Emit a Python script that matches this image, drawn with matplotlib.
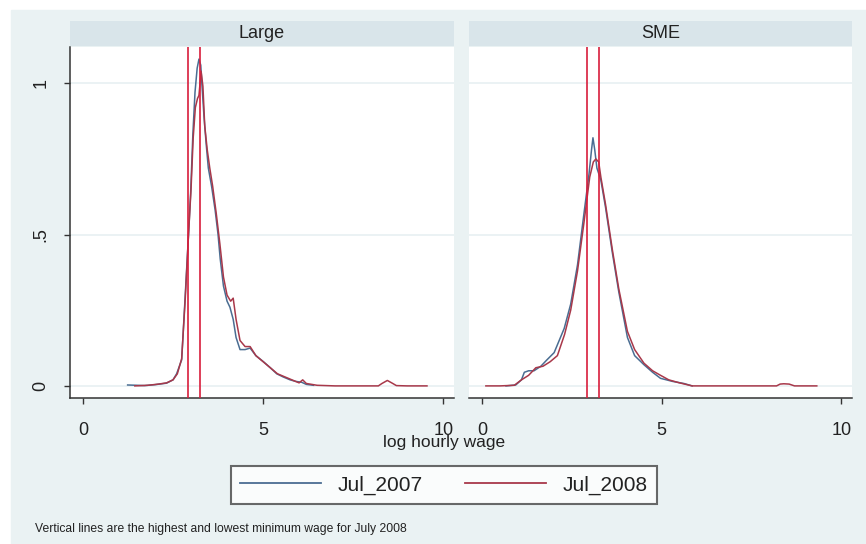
import numpy as np
import matplotlib; matplotlib.use('Agg')
import matplotlib.pyplot as plt
from matplotlib.patches import Rectangle

plt.rcParams['font.family'] = ['Liberation Sans', 'DejaVu Sans']

# --- data ----------------------------------------------------------------
panels = ['Large', 'SME']
series = ['Jul_2007', 'Jul_2008']
min_wage = [2.92, 3.25]   # log of lowest / highest minimum wage, Jul 2008

large_07_x = [1.24,1.5,1.71,2.0,2.32,2.5,2.60,2.74,2.83,2.93,2.99,3.05,3.11,3.17,3.22,3.27,3.30,3.36,3.42,3.48,
              3.57,3.67,3.75,3.81,3.90,4.0,4.08,4.17,4.25,4.36,4.5,4.64,4.8,5.01,5.2,5.38,5.55,5.75,5.9,6.07,6.2,6.4]
large_07_y = [0.003,0.002,0.001,0.004,0.009,0.02,0.04,0.086,0.28,0.50,0.64,0.83,0.97,1.05,1.08,1.06,1.0,0.89,0.80,0.72,
              0.66,0.58,0.50,0.42,0.33,0.28,0.26,0.22,0.16,0.12,0.12,0.125,0.10,0.08,0.06,0.04,0.03,0.02,0.015,0.012,0.005,0.002]
large_08_x = [1.44,1.8,2.1,2.32,2.5,2.62,2.74,2.84,2.93,3.0,3.06,3.12,3.18,3.22,3.28,3.33,3.38,3.45,3.52,3.6,3.7,3.8,
              3.9,4.0,4.1,4.17,4.25,4.36,4.5,4.64,4.8,5.0,5.2,5.4,5.6,5.8,6.0,6.1,6.2,6.5,7.0,8.2,8.3,8.45,8.6,8.7,9.0,9.55]
large_08_y = [0.0,0.002,0.006,0.01,0.02,0.04,0.09,0.29,0.50,0.65,0.82,0.92,0.95,0.96,1.04,0.99,0.86,0.78,0.72,0.66,0.57,0.47,
              0.36,0.30,0.28,0.29,0.22,0.15,0.13,0.13,0.10,0.08,0.06,0.04,0.03,0.02,0.01,0.02,0.008,0.002,0.0,0.0,0.008,0.018,0.008,0.001,0.0,0.0]
sme_07_x = [0.67,0.94,1.1,1.18,1.3,1.45,1.64,1.8,2.01,2.15,2.29,2.47,2.66,2.84,2.98,3.05,3.09,3.14,3.2,3.31,3.44,3.63,
            3.81,4.05,4.25,4.51,4.75,4.97,5.3,5.62,5.85]
sme_07_y = [0.0,0.003,0.02,0.045,0.05,0.05,0.065,0.085,0.11,0.15,0.19,0.27,0.40,0.57,0.70,0.78,0.82,0.78,0.72,0.68,0.59,0.44,
            0.31,0.16,0.10,0.07,0.045,0.025,0.015,0.008,0.0]
sme_08_x = [0.11,0.5,0.9,1.1,1.3,1.5,1.7,1.9,2.1,2.3,2.47,2.66,2.84,3.0,3.1,3.17,3.25,3.31,3.44,3.63,3.81,4.05,4.25,4.51,
            4.75,4.97,5.2,5.5,5.85,7.0,8.2,8.3,8.4,8.55,8.7,9.32]
sme_08_y = [0.0,0.0,0.002,0.02,0.035,0.06,0.065,0.08,0.1,0.17,0.25,0.38,0.54,0.69,0.74,0.75,0.74,0.69,0.60,0.45,0.32,0.18,
            0.12,0.075,0.05,0.035,0.02,0.01,0.0,0.0,0.0,0.006,0.007,0.006,0.0,0.0]
curves = {'Large': [(large_07_x, large_07_y), (large_08_x, large_08_y)],
          'SME':   [(sme_07_x, sme_07_y), (sme_08_x, sme_08_y)]}

BG = '#eaf2f3'; STRIP = '#d9e5ea'; BLUE = '#4a6d92'; MAROON = '#a8384a'; VRED = '#d81e3c'
W, H = 866, 544
fig = plt.figure(figsize=(W/100, H/100), dpi=100, facecolor='white')
fig.patches.append(Rectangle((11/W, 0), 1, 1-10/H, transform=fig.transFigure, color=BG, zorder=-10))

lefts = [70, 469]; right_edges = [454, 852]
for name, l, r in zip(panels, lefts, right_edges):
    ax = fig.add_axes([l/W, 1-398/H, (r-l)/W, (398-47)/H])
    ax.set_facecolor('white')
    for yv in [0, 0.5, 1]:
        ax.axhline(yv, color='#e8f0f2', lw=1.2, zorder=0)
    (bx, by), (rx, ry) = curves[name]
    ax.plot(bx, by, color=BLUE, lw=1.1, zorder=3, label=series[0])
    ax.plot(rx, ry, color=MAROON, lw=1.1, zorder=3, label=series[1])
    for v in min_wage:
        ax.axvline(v, color=VRED, lw=1.2, zorder=4)
    ax.set_xlim(-0.36, 10.3); ax.set_ylim(-0.04, 1.12)
    ax.set_xticks([0, 5, 10]); ax.set_yticks([0, 0.5, 1])
    ax.set_xticklabels(['0', '5', '10'], fontsize=13, color='#222')
    ax.set_yticklabels(['0', '.5', '1'], fontsize=13, color='#222', rotation=90, va='center')
    for s in ['top', 'right']: ax.spines[s].set_visible(False)
    for s in ['left', 'bottom']: ax.spines[s].set_color('#333'); ax.spines[s].set_linewidth(1.1)
    ax.tick_params(axis='x', length=4, width=1, color='#333', pad=13)
    ax.tick_params(axis='y', length=4, width=1, color='#333', pad=11)
    if name == 'SME':
        ax.spines['left'].set_visible(False); ax.tick_params(axis='y', left=False, labelleft=False)
    # strip
    sax = fig.add_axes([l/W, 1-46/H, (r-l)/W, 25/H]); sax.set_facecolor(STRIP)
    sax.set_xticks([]); sax.set_yticks([])
    for s in sax.spines.values(): s.set_visible(False)
    sax.text(0.5, 0.5, name, ha='center', va='center', fontsize=13, color='#222', transform=sax.transAxes)

fig.text(444/W, 1-442/H, 'log hourly wage', ha='center', va='center', fontsize=12.5, color='#222')
h = [plt.Line2D([], [], color=BLUE, lw=1.3), plt.Line2D([], [], color=MAROON, lw=1.3)]
leg = fig.legend(h, series, loc='center', bbox_to_anchor=(444/W, 1-485/H), ncol=2, fontsize=15,
                 frameon=True, fancybox=False, edgecolor='#444', handlelength=3.9, columnspacing=2.0,
                 borderpad=0.45, handletextpad=0.8)
leg.get_frame().set_linewidth(1.5)
for t in leg.get_texts(): t.set_color('#222')
fig.text(35/W, 1-529/H, 'Vertical lines are the highest and lowest minimum wage for July 2008',
         ha='left', va='center', fontsize=8.7, color='#222')
fig.savefig('out.png', dpi=100, facecolor='white')
